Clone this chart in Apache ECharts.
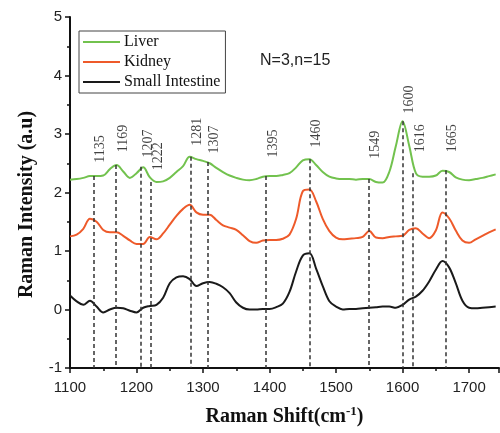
<!DOCTYPE html>
<html>
<head>
<meta charset="utf-8">
<style>
  html, body { margin: 0; padding: 0; background: #fff; }
  #chart { width: 500px; height: 433px; }
</style>
<script src="https://cdn.jsdelivr.net/npm/echarts@6/dist/echarts.min.js"></script>
</head>
<body>
<div id="chart"></div>
<script>
// Raman shift grid (cm-1) shared by the three spectra
const shift = [
  1100, 1110, 1120, 1130, 1140, 1150, 1160, 1170, 1180, 1190,
  1200, 1210, 1220, 1230, 1240, 1250, 1260, 1270, 1280, 1290,
  1300, 1310, 1320, 1330, 1340, 1350, 1360, 1370, 1380, 1390,
  1400, 1410, 1420, 1430, 1440, 1450, 1460, 1470, 1480, 1490,
  1500, 1510, 1520, 1530, 1540, 1550, 1560, 1570, 1580, 1590,
  1600, 1610, 1620, 1630, 1640, 1650, 1660, 1670, 1680, 1690,
  1700, 1710, 1720, 1730, 1740
]

const liver = [
  2.22, 2.23, 2.25, 2.28, 2.28, 2.29, 2.40, 2.47, 2.36, 2.25,
  2.33, 2.43, 2.26, 2.18, 2.19, 2.25, 2.35, 2.45, 2.61, 2.57,
  2.54, 2.50, 2.42, 2.35, 2.29, 2.25, 2.22, 2.21, 2.23, 2.27,
  2.28, 2.28, 2.30, 2.33, 2.43, 2.55, 2.57, 2.47, 2.35, 2.27,
  2.24, 2.23, 2.23, 2.22, 2.23, 2.23, 2.18, 2.17, 2.35, 2.80,
  3.22, 2.80, 2.33, 2.27, 2.27, 2.29, 2.37, 2.35, 2.26, 2.22,
  2.21, 2.23, 2.25, 2.28, 2.31
]

const kidney = [
  1.25, 1.28, 1.38, 1.55, 1.50, 1.36, 1.32, 1.32, 1.26, 1.18,
  1.12, 1.12, 1.24, 1.20, 1.30, 1.45, 1.60, 1.72, 1.79, 1.66,
  1.62, 1.62, 1.53, 1.44, 1.40, 1.36, 1.27, 1.17, 1.14, 1.18,
  1.19, 1.19, 1.21, 1.28, 1.55, 2.02, 2.05, 1.85, 1.55, 1.34,
  1.23, 1.20, 1.21, 1.22, 1.24, 1.34, 1.23, 1.22, 1.24, 1.25,
  1.26, 1.36, 1.39, 1.30, 1.22, 1.35, 1.66, 1.56, 1.35, 1.18,
  1.14, 1.20, 1.26, 1.32, 1.37
]

const smallIntestine = [
  0.24, 0.14, 0.08, 0.15, 0.05, -0.05, 0.00, 0.03, 0.02, -0.02,
  -0.05, 0.03, 0.06, 0.08, 0.20, 0.45, 0.55, 0.57, 0.52, 0.40,
  0.45, 0.47, 0.44, 0.38, 0.28, 0.12, 0.03, 0.00, 0.00, 0.01,
  0.01, 0.04, 0.10, 0.30, 0.65, 0.92, 0.96, 0.70, 0.40, 0.14,
  0.05, 0.00, 0.01, 0.01, 0.02, 0.03, 0.04, 0.05, 0.05, 0.03,
  0.08, 0.17, 0.22, 0.32, 0.48, 0.68, 0.83, 0.72, 0.45, 0.15,
  0.03, 0.02, 0.03, 0.04, 0.05
]

// assigned peaks: position, where the dashed guide starts, where its label sits
const peakShift = [1135, 1169, 1207, 1222, 1281, 1307, 1395, 1460, 1549, 1600, 1616, 1665]
const peakLineTop = [2.28, 2.47, 2.44, 2.18, 2.61, 2.52, 2.28, 2.57, 2.23, 3.22, 2.33, 2.38]
const peakLabelY = [2.50, 2.68, 2.59, 2.37, 2.79, 2.66, 2.59, 2.76, 2.57, 3.34, 2.68, 2.68]

const seriesNames = ['Liver', 'Kidney', 'Small Intestine']
const seriesColors = ['#72c24e', '#ee5a2a', '#1a1a1a']
const seriesValues = [liver, kidney, smallIntestine]

const serif = '"Liberation Serif", "Times New Roman", serif'
const sans = '"Liberation Sans", Arial, sans-serif'

const chart = echarts.init(document.getElementById('chart'))

const lineSeries = seriesNames.map((name, k) => ({
  name: name,
  type: 'line',
  data: shift.map((x, i) => [x, seriesValues[k][i]]),
  smooth: 0.35,
  symbol: 'none',
  lineStyle: { color: seriesColors[k], width: 2 },
  itemStyle: { color: seriesColors[k] },
  z: 3,
}))

const peakSeries = {
  name: 'peaks',
  type: 'scatter',
  data: peakShift.map((x, i) => [x, peakLabelY[i]]),
  symbolSize: 1,
  itemStyle: { color: 'transparent' },
  silent: true,
  label: {
    show: true,
    position: 'top',
    distance: 0,
    rotate: 90,
    align: 'left',
    verticalAlign: 'top',
    formatter: (p) => String(p.value[0]),
    fontFamily: serif,
    fontSize: 14,
    color: '#111',
  },
  markLine: {
    silent: true,
    symbol: 'none',
    label: { show: false },
    lineStyle: { color: '#333', type: [4, 3], width: 1.5 },
    data: peakShift.map((x, i) => [
      { coord: [x, peakLineTop[i]] },
      { coord: [x, -1] },
    ]),
  },
  z: 2,
}

const option = {
  backgroundColor: '#fff',
  animation: false,
  title: {
    text: 'N=3,n=15',
    left: 260,
    top: 53,
    padding: 0,
    textStyle: { fontFamily: sans, fontSize: 16, fontWeight: 'normal', color: '#222' },
  },
  legend: {
    data: seriesNames,
    orient: 'vertical',
    left: 79,
    top: 31,
    padding: [3, 5, 3, 4],
    itemGap: 4,
    itemWidth: 37,
    itemHeight: 2,
    icon: 'rect',
    borderColor: '#444',
    borderWidth: 1,
    textStyle: { fontFamily: serif, fontSize: 16, color: '#111', padding: [0, 0, 0, -1] },
  },
  grid: { left: 70, right: 1, top: 17, bottom: 65, containLabel: false },
  xAxis: {
    type: 'value',
    min: 1100,
    max: 1745,
    interval: 100,
    name: '{a|Raman Shift(cm}{b|-1}{a|)}',
    nameLocation: 'middle',
    nameGap: 37,
    nameTextStyle: {
      rich: {
        a: { fontFamily: serif, fontSize: 20, fontWeight: 'bold', color: '#111' },
        b: { fontFamily: serif, fontSize: 13, fontWeight: 'bold', color: '#111', verticalAlign: 'top', padding: [0, 0, 10, 0] },
      },
    },
    axisLine: { show: true, onZero: false, lineStyle: { color: '#111', width: 2 } },
    axisTick: { show: true, inside: false, length: 5, lineStyle: { color: '#111', width: 1.5 } },
    minorTick: { show: true, splitNumber: 2, length: 3, lineStyle: { color: '#111', width: 1.5 } },
    splitLine: { show: false },
    axisLabel: {
      showMaxLabel: false,
      margin: 12,
      fontFamily: sans,
      fontSize: 15,
      color: '#222',
      formatter: (v) => String(v),
    },
  },
  yAxis: {
    type: 'value',
    min: -1,
    max: 5,
    interval: 1,
    name: 'Raman Intensity (a.u)',
    nameLocation: 'middle',
    nameGap: 33,
    nameTextStyle: { fontFamily: serif, fontSize: 20, fontWeight: 'bold', color: '#111', padding: [0, 24, 0, 0] },
    axisLine: { show: true, onZero: false, lineStyle: { color: '#111', width: 2 } },
    axisTick: { show: true, inside: false, length: 5, lineStyle: { color: '#111', width: 1.5 } },
    minorTick: { show: true, splitNumber: 2, length: 3, lineStyle: { color: '#111', width: 1.5 } },
    splitLine: { show: false },
    axisLabel: { margin: 8, fontFamily: sans, fontSize: 15, color: '#222', formatter: (v) => String(v) },
  },
  series: [...lineSeries, peakSeries],
}

chart.setOption(option)
</script>
</body>
</html>
